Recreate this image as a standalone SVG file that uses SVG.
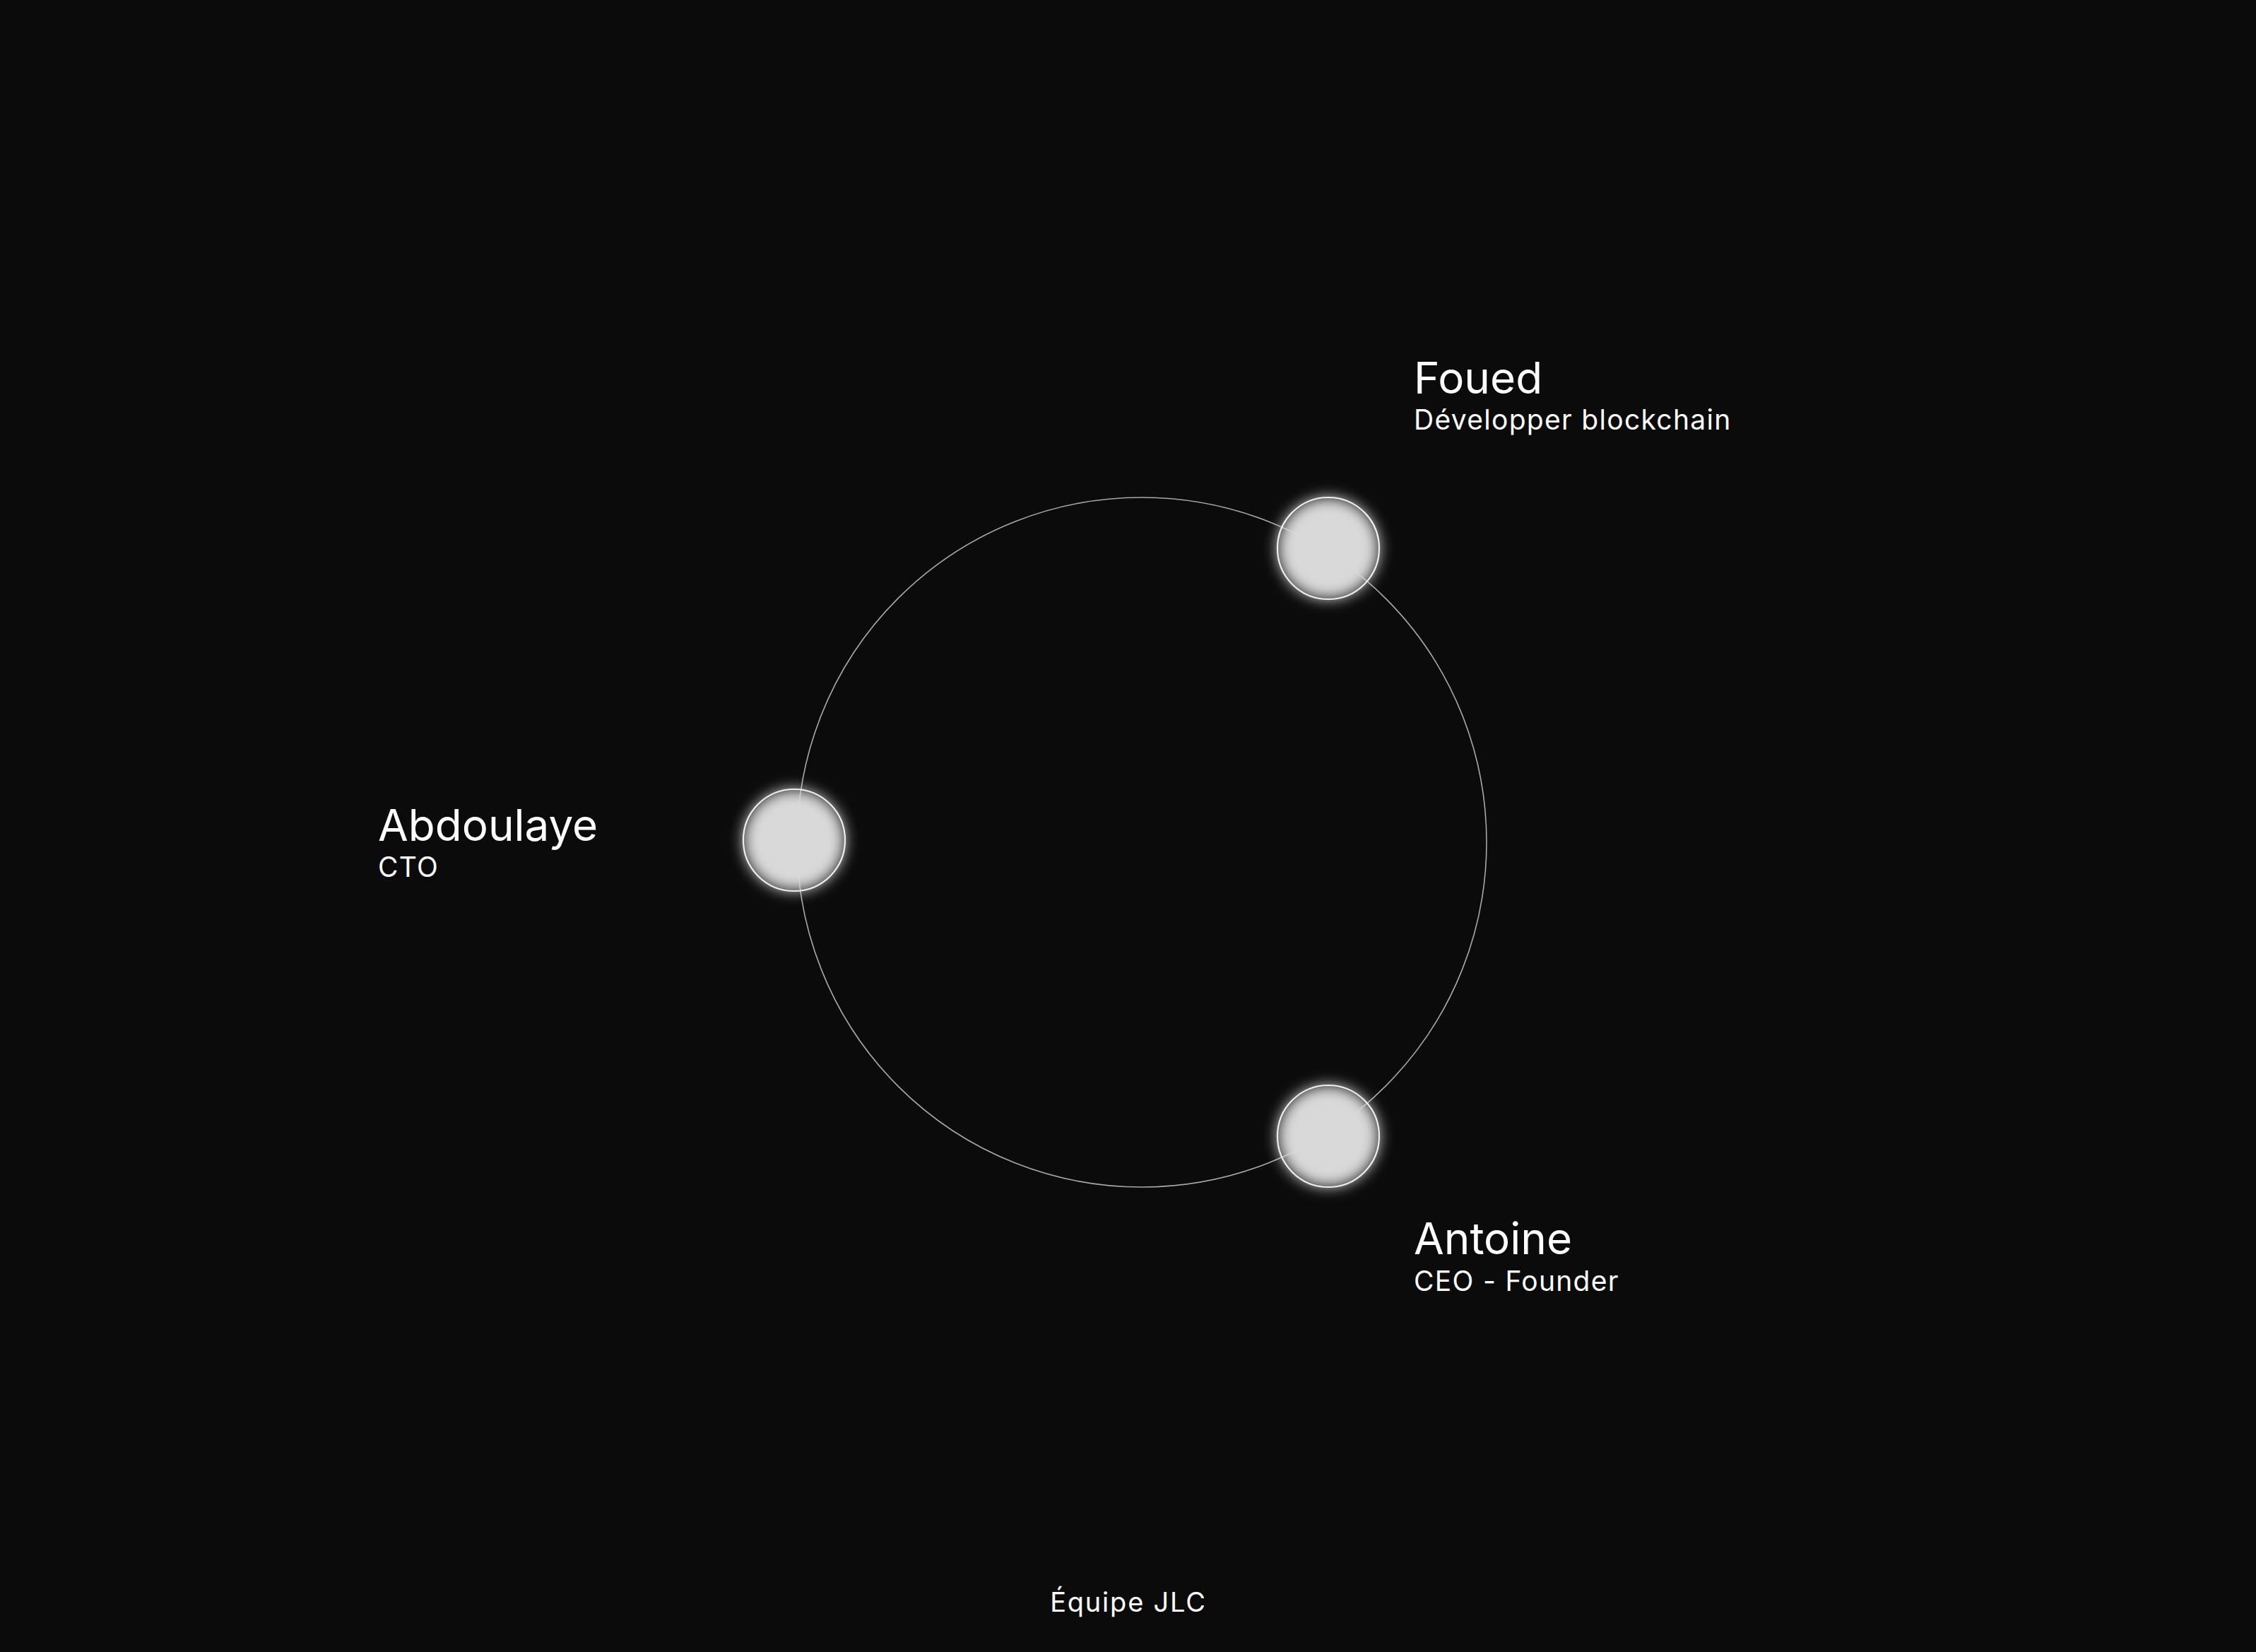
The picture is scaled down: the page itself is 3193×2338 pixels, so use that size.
<svg xmlns="http://www.w3.org/2000/svg" width="3193" height="2338" viewBox="0 0 3193 2338">
  <defs>
    <filter id="glow" x="-50%" y="-50%" width="200%" height="200%">
      <feGaussianBlur stdDeviation="10"/>
    </filter>
    <style>
      .ring { fill: none; stroke: #a8a8a8; stroke-width: 1.6; }
      .orb { fill: #d9d9d9; filter: url(#glow); }
      .orb-edge { fill: none; stroke: #eeeeee; stroke-width: 2.2; }
      .name { font-family: Inter, "Liberation Sans", sans-serif; font-size: 62px; fill: #ffffff; }
      .role { font-family: Inter, "Liberation Sans", sans-serif; font-size: 39px; letter-spacing: 1.3px; fill: #ffffff; }
      .title { font-family: Inter, "Liberation Sans", sans-serif; font-size: 38px; letter-spacing: 1.8px; fill: #ffffff; }
    </style>
  </defs>
  <rect width="3193" height="2338" fill="#0b0b0b"/>
  <g id="connectors">
    <circle class="ring" cx="1616" cy="1192" r="488"/>
  </g>
  <g id="node-foued">
    <circle class="orb" cx="1880" cy="776" r="72"/>
    <circle class="orb-edge" cx="1880" cy="776" r="72"/>
    <text class="name" x="2001" y="557">Foued</text>
    <text class="role" x="2001" y="608">Développer blockchain</text>
  </g>
  <g id="node-abdoulaye">
    <circle class="orb" cx="1124" cy="1189" r="72"/>
    <circle class="orb-edge" cx="1124" cy="1189" r="72"/>
    <text class="name" x="535" y="1190">Abdoulaye</text>
    <text class="role" x="535" y="1241">CTO</text>
  </g>
  <g id="node-antoine">
    <circle class="orb" cx="1880" cy="1608" r="72"/>
    <circle class="orb-edge" cx="1880" cy="1608" r="72"/>
    <text class="name" x="2001" y="1775">Antoine</text>
    <text class="role" x="2001" y="1827">CEO - Founder</text>
  </g>
  <g id="caption">
    <text class="title" x="1597" y="2281" text-anchor="middle">Équipe JLC</text>
  </g>
</svg>
